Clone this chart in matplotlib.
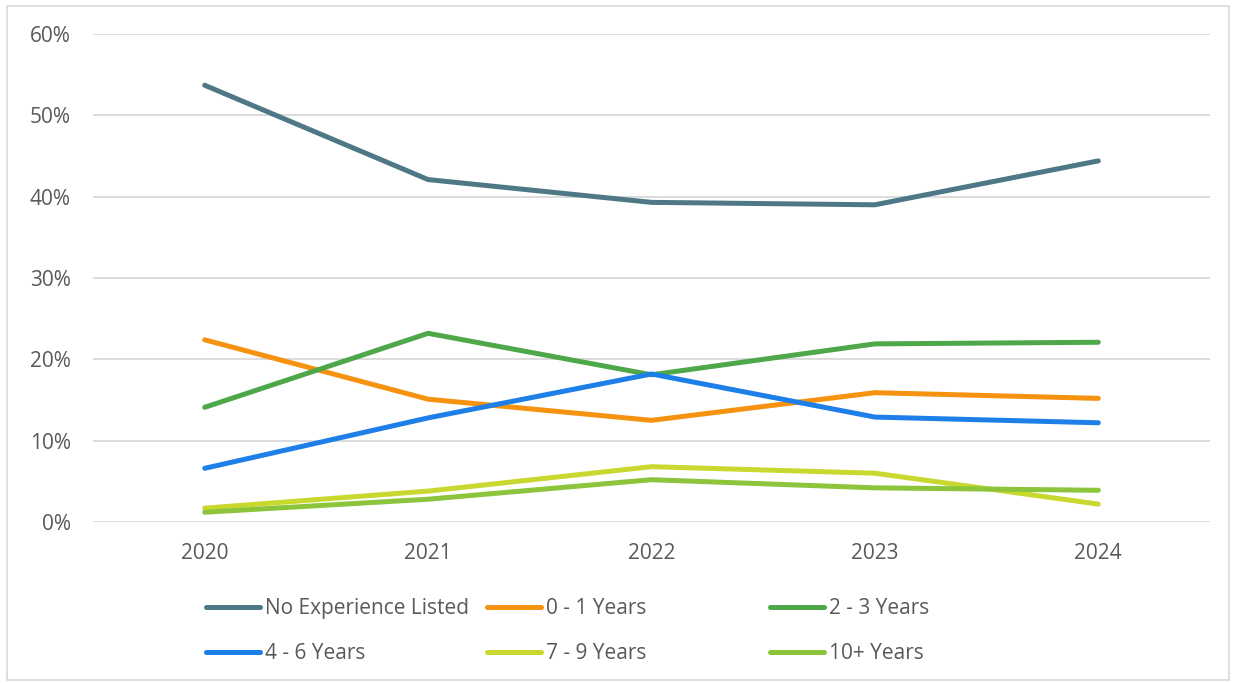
import matplotlib
matplotlib.use("Agg")
import matplotlib.pyplot as plt
from matplotlib.patches import Rectangle

plt.rcParams["font.family"] = ["Open Sans", "DejaVu Sans"]

years = ["2020", "2021", "2022", "2023", "2024"]
series_names = [
    "No Experience Listed",
    "0 - 1 Years",
    "2 - 3 Years",
    "4 - 6 Years",
    "7 - 9 Years",
    "10+ Years",
]
no_experience = [53.7, 42.1, 39.3, 39.0, 44.4]
years_0_1 = [22.4, 15.1, 12.5, 15.9, 15.2]
years_2_3 = [14.1, 23.2, 18.1, 21.9, 22.1]
years_4_6 = [6.6, 12.8, 18.2, 12.9, 12.2]
years_7_9 = [1.7, 3.8, 6.8, 6.0, 2.2]
years_10_plus = [1.2, 2.8, 5.2, 4.2, 3.9]
y_ticks = [0, 10, 20, 30, 40, 50, 60]

colors = ["#4E7886", "#F5920F", "#4EA84A", "#1E7FE8", "#C9D82E", "#8CC43C"]
all_values = [no_experience, years_0_1, years_2_3, years_4_6, years_7_9, years_10_plus]

fig = plt.figure(figsize=(12.38, 6.83), dpi=100)
ax = fig.add_axes([93 / 1238, 1 - 522 / 683, (1210 - 93) / 1238, (522 - 34) / 683])

xs = list(range(len(years)))
lines = []
for name, vals, c in zip(series_names, all_values, colors):
    (ln,) = ax.plot(xs, vals, color=c, lw=3.6, solid_capstyle="round",
                    solid_joinstyle="round", label=name, zorder=3)
    lines.append(ln)

ax.set_xlim(-0.5, len(years) - 0.5)
ax.set_ylim(0, 60)
ax.set_xticks(xs)
ax.set_xticklabels(years)
ax.set_yticks(y_ticks)
ax.set_yticklabels([f"{v}%" for v in y_ticks])
ax.tick_params(length=0, labelsize=15, labelcolor="#595959")
ax.tick_params(axis="y", pad=16)
ax.tick_params(axis="x", pad=15)
ax.grid(axis="y", color="#D9D9D9", lw=1.3)
ax.set_axisbelow(True)
for s in ax.spines.values():
    s.set_visible(False)

# legend: three columns of equal width, row-major order
col_x = [206 / 1238, 487 / 1238, 770 / 1238]
for i, x0 in enumerate(col_x):
    handles = [lines[i], lines[i + 3]]
    leg = fig.legend(handles=handles, loc="upper left",
                     bbox_to_anchor=(x0, 1 - 598 / 683), frameon=False,
                     fontsize=15, handlelength=2.6, handletextpad=0.22,
                     labelspacing=1.15, borderaxespad=0, borderpad=0)
    for t in leg.get_texts():
        t.set_color("#595959")

fig.patches.append(Rectangle((7 / 1238, 3 / 683), 1222 / 1238, 674 / 683,
                             transform=fig.transFigure, fill=False,
                             edgecolor="#D9D9D9", lw=1.2))

fig.savefig("out.png", dpi=100)
